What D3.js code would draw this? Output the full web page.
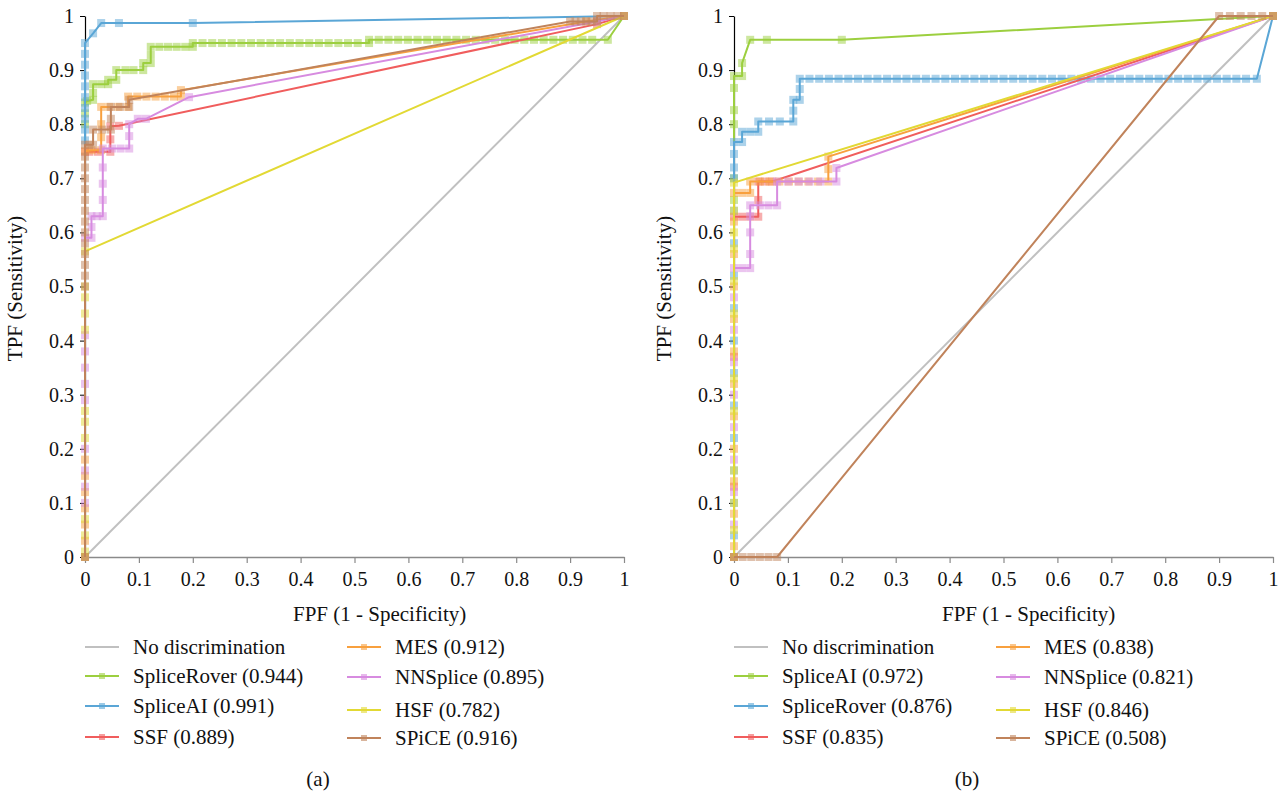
<!DOCTYPE html>
<html>
<head>
<meta charset="utf-8">
<script src="https://cdn.jsdelivr.net/npm/d3@7"></script>
<style>
  html, body { margin: 0; padding: 0; background: #fff; }
  svg { display: block; }
  svg text { font-family: "Liberation Serif", "DejaVu Serif", serif; }
</style>
</head>
<body>
<svg id="chart" width="1284" height="791"></svg>
<script>
// ---- data ----
const fpfTicks = [0, 0.1, 0.2, 0.3, 0.4, 0.5, 0.6, 0.7, 0.8, 0.9, 1];
const tpfTicks = [0, 0.1, 0.2, 0.3, 0.4, 0.5, 0.6, 0.7, 0.8, 0.9, 1];

const namesA = ["No discrimination", "SpliceRover", "SpliceAI", "SSF", "MES", "NNSplice", "HSF", "SPiCE"];
const aucA   = [null, "0.944", "0.991", "0.889", "0.912", "0.895", "0.782", "0.916"];
const namesB = ["No discrimination", "SpliceAI", "SpliceRover", "SSF", "MES", "NNSplice", "HSF", "SPiCE"];
const aucB   = [null, "0.972", "0.876", "0.835", "0.838", "0.821", "0.846", "0.508"];

// colour by legend slot (same in both panels)
const lineColors = ["#c0c0c0", "#9ccf3f", "#5aa6d6", "#f05d5d", "#f8a03e", "#d78be0", "#e2d934", "#c0835b"];

// panel (a)
const rocA_noDisc = [[0, 0], [1, 1]];
const rocA_spliceRover = [[0, 0], [0, 0.8], [0, 0.82], [0, 0.84], [0.004, 0.843], [0.015, 0.845], [0.015, 0.858], [0.015, 0.874],
  [0.03, 0.874], [0.043, 0.874], [0.043, 0.882], [0.058, 0.882], [0.058, 0.9], [0.075, 0.9], [0.09, 0.9], [0.108, 0.9],
  [0.108, 0.913], [0.122, 0.913], [0.122, 0.928], [0.122, 0.943], [0.138, 0.943], [0.154, 0.943], [0.17, 0.943], [0.186, 0.943],
  [0.2, 0.943], [0.2, 0.95], [0.218, 0.95], [0.236, 0.95], [0.254, 0.95], [0.272, 0.95], [0.29, 0.95], [0.308, 0.95],
  [0.326, 0.95], [0.344, 0.95], [0.362, 0.95], [0.38, 0.95], [0.398, 0.95], [0.416, 0.95], [0.434, 0.95], [0.452, 0.95],
  [0.47, 0.95], [0.488, 0.95], [0.506, 0.95], [0.527, 0.95], [0.527, 0.956], [0.545, 0.956], [0.563, 0.956], [0.581, 0.956],
  [0.599, 0.956], [0.617, 0.956], [0.635, 0.956], [0.653, 0.956], [0.671, 0.956], [0.689, 0.956], [0.707, 0.956], [0.725, 0.956],
  [0.743, 0.956], [0.761, 0.956], [0.779, 0.956], [0.797, 0.956], [0.815, 0.956], [0.833, 0.956], [0.851, 0.956], [0.869, 0.956],
  [0.887, 0.956], [0.905, 0.956], [0.923, 0.956], [0.941, 0.956], [0.97, 0.956], [1, 1]];
const rocA_spliceAI = [[0, 0], [0, 0.77], [0, 0.79], [0, 0.81], [0, 0.83], [0, 0.85], [0, 0.87], [0, 0.89], [0, 0.91],
  [0, 0.93], [0, 0.95], [0.015, 0.968], [0.03, 0.987], [0.063, 0.987], [0.2, 0.987], [1, 1]];
const rocA_ssf = [[0, 0], [0, 0.749], [0.008, 0.749], [0.024, 0.749], [0.047, 0.749], [0.047, 0.772], [0.047, 0.796],
  [0.063, 0.797], [0.95, 0.985], [1, 1]];
const rocA_mes = [[0, 0], [0, 0.03], [0, 0.06], [0, 0.09], [0, 0.12], [0, 0.15], [0, 0.18], [0, 0.75], [0.012, 0.752],
  [0.03, 0.752], [0.03, 0.776], [0.03, 0.8], [0.03, 0.832], [0.045, 0.832], [0.062, 0.832], [0.08, 0.832], [0.08, 0.851],
  [0.097, 0.851], [0.114, 0.851], [0.131, 0.851], [0.148, 0.851], [0.165, 0.851], [0.178, 0.851], [0.178, 0.863],
  [0.93, 0.99], [1, 1]];
const rocA_nnsplice = [[0, 0], [0, 0.1], [0, 0.13], [0, 0.16], [0, 0.2], [0, 0.29], [0, 0.32], [0, 0.35], [0, 0.38],
  [0, 0.41], [0, 0.59], [0.012, 0.59], [0.012, 0.61], [0.012, 0.63], [0.022, 0.63], [0.033, 0.63], [0.033, 0.66],
  [0.033, 0.69], [0.033, 0.72], [0.033, 0.755], [0.05, 0.755], [0.066, 0.755], [0.082, 0.755], [0.082, 0.778],
  [0.082, 0.8], [0.098, 0.81], [0.113, 0.81], [0.193, 0.85], [0.95, 0.99], [1, 1]];
const rocA_hsf = [[0, 0], [0, 0.01], [0, 0.04], [0, 0.07], [0, 0.22], [0, 0.25], [0, 0.27], [0, 0.42], [0, 0.45],
  [0, 0.48], [0, 0.5], [0, 0.565], [1, 1]];
const rocA_spice = [[0, 0], [0, 0.5], [0, 0.52], [0, 0.54], [0, 0.56], [0, 0.58], [0, 0.6], [0, 0.62], [0, 0.64],
  [0, 0.66], [0, 0.68], [0, 0.7], [0, 0.72], [0, 0.74], [0, 0.762], [0.008, 0.762], [0.015, 0.762], [0.015, 0.79],
  [0.032, 0.79], [0.048, 0.79], [0.048, 0.81], [0.048, 0.832], [0.065, 0.832], [0.082, 0.832], [0.082, 0.845],
  [0.9, 0.99], [0.91, 0.99], [0.92, 0.99], [0.93, 0.99], [0.94, 0.99], [0.95, 0.99], [0.95, 1], [0.962, 1],
  [0.975, 1], [0.988, 1], [1, 1]];

// panel (b)
const rocB_noDisc = [[0, 0], [1, 1]];
const rocB_spliceAI = [[0, 0], [0, 0.66], [0, 0.7], [0, 0.8], [0, 0.826], [0, 0.867], [0, 0.889], [0.015, 0.889],
  [0.015, 0.913], [0.03, 0.956], [0.061, 0.956], [0.2, 0.956], [1, 1]];
const rocB_spliceRover = [[0, 0], [0, 0.04], [0, 0.1], [0, 0.16], [0, 0.22], [0, 0.28], [0, 0.34], [0, 0.4], [0, 0.46],
  [0, 0.52], [0, 0.58], [0, 0.64], [0, 0.7], [0, 0.72], [0, 0.745], [0, 0.767], [0.015, 0.767], [0.015, 0.786],
  [0.03, 0.786], [0.045, 0.786], [0.045, 0.805], [0.065, 0.805], [0.085, 0.805], [0.11, 0.805], [0.11, 0.825],
  [0.11, 0.845], [0.122, 0.845], [0.122, 0.865], [0.122, 0.884], [0.14, 0.884], [0.158, 0.884], [0.176, 0.884],
  [0.194, 0.884], [0.212, 0.884], [0.23, 0.884], [0.248, 0.884], [0.266, 0.884], [0.284, 0.884], [0.302, 0.884],
  [0.32, 0.884], [0.338, 0.884], [0.356, 0.884], [0.374, 0.884], [0.392, 0.884], [0.41, 0.884], [0.428, 0.884],
  [0.446, 0.884], [0.464, 0.884], [0.482, 0.884], [0.5, 0.884], [0.518, 0.884], [0.536, 0.884], [0.554, 0.884],
  [0.572, 0.884], [0.59, 0.884], [0.608, 0.884], [0.626, 0.884], [0.644, 0.884], [0.662, 0.884], [0.68, 0.884],
  [0.698, 0.884], [0.716, 0.884], [0.734, 0.884], [0.752, 0.884], [0.77, 0.884], [0.788, 0.884], [0.806, 0.884],
  [0.824, 0.884], [0.842, 0.884], [0.86, 0.884], [0.878, 0.884], [0.896, 0.884], [0.914, 0.884], [0.932, 0.884],
  [0.95, 0.884], [0.97, 0.884], [1, 1]];
const rocB_ssf = [[0, 0], [0, 0.13], [0, 0.37], [0, 0.629], [0.015, 0.629], [0.03, 0.629], [0.045, 0.629],
  [0.045, 0.66], [0.045, 0.694], [0.058, 0.694], [0.071, 0.694], [1, 1]];
const rocB_mes = [[0, 0], [0, 0.02], [0, 0.08], [0, 0.14], [0, 0.2], [0, 0.26], [0, 0.32], [0, 0.38], [0, 0.44],
  [0, 0.5], [0, 0.56], [0, 0.62], [0, 0.673], [0.015, 0.673], [0.03, 0.673], [0.03, 0.694], [0.048, 0.694],
  [0.066, 0.694], [0.084, 0.694], [0.102, 0.694], [0.12, 0.694], [0.138, 0.694], [0.156, 0.694], [0.175, 0.694],
  [0.175, 0.717], [0.175, 0.74], [1, 1]];
const rocB_nnsplice = [[0, 0], [0, 0.06], [0, 0.12], [0, 0.18], [0, 0.24], [0, 0.3], [0, 0.36], [0, 0.42], [0, 0.48],
  [0, 0.534], [0.015, 0.534], [0.03, 0.534], [0.03, 0.56], [0.03, 0.6], [0.03, 0.63], [0.03, 0.65], [0.048, 0.65],
  [0.064, 0.65], [0.08, 0.65], [0.08, 0.694], [0.1, 0.694], [0.12, 0.694], [0.14, 0.694], [0.16, 0.694],
  [0.19, 0.694], [0.19, 0.719], [1, 1]];
const rocB_hsf = [[0, 0], [0, 0.05], [0, 0.1], [0, 0.16], [0, 0.27], [0, 0.33], [0, 0.45], [0, 0.51], [0, 0.57],
  [0, 0.6], [0, 0.64], [0, 0.692], [1, 1]];
const rocB_spice = [[0, 0], [0.016, 0], [0.032, 0], [0.048, 0], [0.064, 0], [0.08, 0], [0.9, 1], [0.92, 1],
  [0.94, 1], [0.96, 1], [0.98, 1], [1, 1]];

const panels = [
  { x0: 85, x1: 624, label: "(a)", names: namesA, auc: aucA,
    curves: [rocA_noDisc, rocA_spliceRover, rocA_spliceAI, rocA_ssf, rocA_mes, rocA_nnsplice, rocA_hsf, rocA_spice] },
  { x0: 734, x1: 1273, label: "(b)", names: namesB, auc: aucB,
    curves: [rocB_noDisc, rocB_spliceAI, rocB_spliceRover, rocB_ssf, rocB_mes, rocB_nnsplice, rocB_hsf, rocB_spice] }
];

const yTop = 16, yBottom = 557;
const FONT = '"Liberation Serif", "DejaVu Serif", serif';
const svg = d3.select("#chart");
svg.append("rect").attr("width", 1284).attr("height", 791).attr("fill", "#fff");

const fmt = d => d === 0 ? "0" : d === 1 ? "1" : d3.format(".1f")(d);
const legendCol = [0, 0, 0, 0, 1, 1, 1, 1];
const legendRowY = [[647, 676, 706, 737], [647, 677, 710, 738]];

panels.forEach(p => {
  const x = d3.scaleLinear().domain([0, 1]).range([p.x0, p.x1]);
  const y = d3.scaleLinear().domain([0, 1]).range([yBottom, yTop]);
  const g = svg.append("g");

  // x axis (grey) with ticks pointing down
  const xAxis = g.append("g").attr("transform", `translate(0,${yBottom})`)
    .call(d3.axisBottom(x).tickValues(fpfTicks).tickFormat(fmt).tickSize(6).tickSizeOuter(0).tickPadding(9))
    .attr("font-family", FONT).attr("font-size", 20);
  xAxis.select(".domain").attr("stroke", "#8a8a8a").attr("stroke-width", 1.5);
  xAxis.selectAll(".tick line").attr("stroke", "#8a8a8a").attr("stroke-width", 1.2);
  xAxis.selectAll(".tick text").attr("fill", "#111");

  // y axis (black)
  const yAxis = g.append("g").attr("transform", `translate(${p.x0},0)`)
    .call(d3.axisLeft(y).tickValues(tpfTicks).tickFormat(fmt).tickSize(5).tickSizeOuter(0).tickPadding(6))
    .attr("font-family", FONT).attr("font-size", 20);
  yAxis.select(".domain").attr("stroke", "#000").attr("stroke-width", 1.2);
  yAxis.selectAll(".tick line").attr("stroke", "#000");
  yAxis.selectAll(".tick text").attr("fill", "#111");

  const line = d3.line().x(d => x(d[0])).y(d => y(d[1]));

  p.curves.forEach((pts, i) => {
    const c = lineColors[i];
    const sg = g.append("g");
    if (i > 0) {
      sg.selectAll("rect").data(pts).join("rect")
        .attr("x", d => x(d[0]) - 4).attr("y", d => y(d[1]) - 4)
        .attr("width", 8).attr("height", 8)
        .attr("fill", c).attr("fill-opacity", 0.5);
    }
    sg.append("path").datum(pts).attr("d", line)
      .attr("fill", "none").attr("stroke", c).attr("stroke-width", 2)
      .attr("stroke-linejoin", "round");
  });

  // axis titles
  g.append("text").attr("x", p.x0 + 208).attr("y", 621)
    .attr("font-size", 21).attr("fill", "#111").text("FPF (1 - Specificity)");
  g.append("text").attr("transform", `translate(${p.x0 - 63},${(yTop + yBottom) / 2 + 2}) rotate(-90)`)
    .attr("text-anchor", "middle").attr("font-size", 21).attr("fill", "#111").text("TPF (Sensitivity)");

  // legend
  p.names.forEach((name, i) => {
    const col = legendCol[i];
    const row = col === 0 ? i : i - 4;
    const cy = legendRowY[col][row];
    const lx = p.x0 + (col === 0 ? 0 : 262);
    const c = lineColors[i];
    g.append("line").attr("x1", lx).attr("x2", lx + 34).attr("y1", cy).attr("y2", cy)
      .attr("stroke", c).attr("stroke-width", 2);
    if (i > 0) {
      g.append("rect").attr("x", lx + 14).attr("y", cy - 3).attr("width", 6).attr("height", 6)
        .attr("fill", c).attr("fill-opacity", 0.6);
    }
    g.append("text").attr("x", lx + 48).attr("y", cy + 7).attr("font-size", 21).attr("fill", "#111")
      .text(p.auc[i] ? `${name} (${p.auc[i]})` : name);
  });

  g.append("text").attr("x", p.x0 + 233).attr("y", 786).attr("text-anchor", "middle")
    .attr("font-size", 21).attr("fill", "#111").text(p.label);
});
</script>
</body>
</html>
